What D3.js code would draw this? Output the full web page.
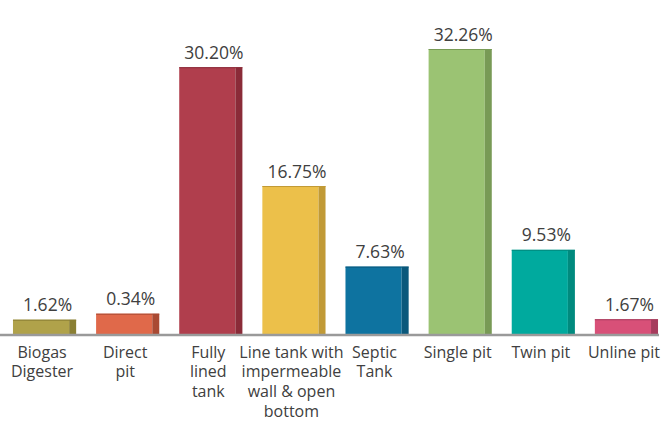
<!DOCTYPE html>
<html><head><meta charset="utf-8">
<script src="https://cdn.jsdelivr.net/npm/d3@7"></script>
<style>body{margin:0;background:#fff}svg{display:block}</style>
</head><body><svg id="c" width="665" height="421"></svg>
<script>
const categories = ["Biogas Digester","Direct pit","Fully lined tank","Line tank with impermeable wall & open bottom","Septic Tank","Single pit","Twin pit","Unline pit"];
const labelLines = [["Biogas","Digester"],["Direct","pit"],["Fully","lined","tank"],["Line tank with","impermeable","wall & open","bottom"],["Septic","Tank"],["Single pit"],["Twin pit"],["Unline pit"]];
// printed data labels
const valueLabels = ["1.62%","0.34%","30.20%","16.75%","7.63%","32.26%","9.53%","1.67%"];
// bar heights as drawn in the picture (Direct pit bar is drawn taller than its label)
const values = [1.62,2.3,30.20,16.75,7.63,32.26,9.53,1.67];
const frontColors = ["#B0A24A","#E0694A","#B03E4D","#ECC04A","#0E73A0","#9BC373","#00AA9E","#D85078"];
const sideColors = ["#8A7F33","#A94A33","#8A2B38","#C19A36","#0A587B","#789A55","#008A7E","#A63B5C"];

const svg = d3.select("#c");
const baseY = 334;
const x = d3.scaleBand().domain(categories).range([3, 668]).paddingInner(0.24).paddingOuter(0.12);
const y = d3.scaleLinear().domain([0, 32.26]).range([baseY, 49]);
const sideW = 7;

const g = svg.append("g");
const bars = g.selectAll("g.bar").data(categories).join("g").attr("class","bar");
bars.append("rect")
  .attr("x", d => x(d)).attr("y", (d,i) => y(values[i]))
  .attr("width", x.bandwidth() - sideW).attr("height", (d,i) => baseY - y(values[i]))
  .attr("fill", (d,i) => frontColors[i]);
bars.append("rect")
  .attr("x", d => x(d) + x.bandwidth() - sideW).attr("y", (d,i) => y(values[i]))
  .attr("width", sideW).attr("height", (d,i) => baseY - y(values[i]))
  .attr("fill", (d,i) => sideColors[i]);
bars.append("rect")
  .attr("x", d => x(d)).attr("y", (d,i) => y(values[i]))
  .attr("width", x.bandwidth()).attr("height", 1)
  .attr("fill", (d,i) => sideColors[i]);

// axis baseline
svg.append("line").attr("x1", 0).attr("x2", 659).attr("y1", baseY + 1).attr("y2", baseY + 1)
  .attr("stroke", "#9a9a9a").attr("stroke-width", 2.5);

// value labels
svg.selectAll("text.val").data(categories).join("text").attr("class","val")
  .attr("x", d => x(d) + x.bandwidth()/2 + 3)
  .attr("y", (d,i) => y(values[i]) - 8.5)
  .attr("text-anchor","middle")
  .attr("font-family","'Open Sans', sans-serif").attr("font-size", 17.5)
  .attr("fill","#404040")
  .text((d,i) => valueLabels[i]);

// category labels
const cl = svg.selectAll("text.cat").data(categories).join("text").attr("class","cat")
  .attr("text-anchor","middle")
  .attr("font-family","'Open Sans', sans-serif").attr("font-size", 16)
  .attr("fill","#404040");
cl.each(function(d,i){
  const t = d3.select(this);
  labelLines[i].forEach((ln, j) => {
    t.append("tspan").attr("x", x(d) + x.bandwidth()/2 - 2.5).attr("y", 357.5 + j*19.8).text(ln);
  });
});
</script></body></html>
